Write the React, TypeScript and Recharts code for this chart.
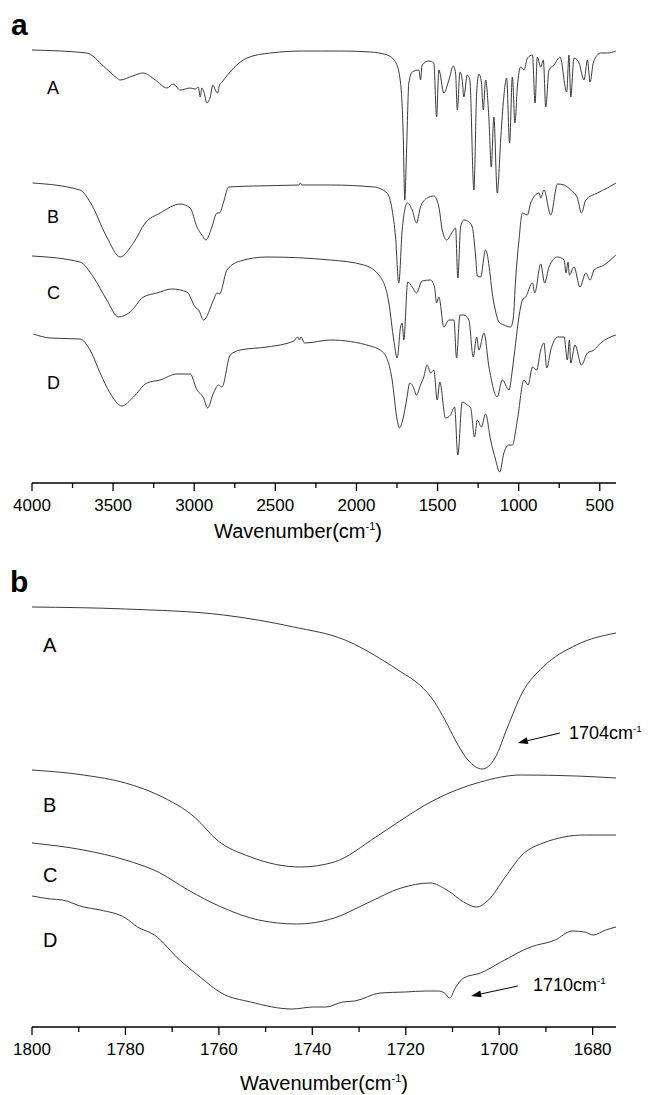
import React from 'react'
import { LineChart, Line, XAxis, YAxis, ReferenceLine } from 'recharts'

// panel a: full FTIR spectra, [wavenumber, transmittance (a.u., offset)]
const fullA: [number, number][] = [
  [4000, 433], [3662, 430], [3560, 417], [3477, 405], [3457, 403], [3380, 407], [3315, 410], [3240, 403],
  [3168, 395], [3130, 399], [3086, 393], [3025, 395], [2994, 394], [2975, 396], [2963, 386], [2953, 395],
  [2940, 391], [2922, 380], [2901, 386], [2885, 398], [2870, 393], [2856, 390], [2844, 398], [2829, 401],
  [2757, 415], [2675, 425], [2531, 430], [2327, 432], [2222, 432], [2099, 432], [1914, 431], [1811, 428],
  [1759, 421], [1728, 400], [1712, 350], [1702, 283], [1691, 333], [1677, 400], [1656, 411], [1615, 413],
  [1605, 403], [1595, 418], [1554, 422], [1523, 420], [1506, 366], [1492, 413], [1461, 390], [1430, 403],
  [1403, 417], [1389, 410], [1378, 373], [1362, 411], [1348, 403], [1338, 386], [1317, 408], [1301, 403],
  [1276, 293], [1259, 390], [1245, 409], [1230, 401], [1218, 373], [1204, 403], [1183, 363], [1169, 316],
  [1153, 366], [1132, 290], [1111, 343], [1095, 380], [1074, 405], [1056, 340], [1039, 406], [1023, 360],
  [1008, 396], [988, 416], [967, 413], [946, 425], [915, 428], [899, 380], [885, 426], [864, 416],
  [848, 423], [833, 376], [813, 413], [782, 418], [745, 426], [704, 391], [690, 428], [679, 386],
  [659, 425], [628, 420], [597, 403], [576, 423], [560, 401], [539, 421], [494, 430], [453, 430], [401, 432],
]

const fullB: [number, number][] = [
  [3996, 300], [3704, 293], [3642, 281], [3539, 246], [3457, 226], [3375, 240], [3302, 260], [3210, 270],
  [3086, 279], [3025, 275], [2983, 256], [2953, 248], [2928, 243], [2891, 256], [2860, 270], [2844, 270],
  [2819, 281], [2788, 296], [2634, 297], [2355, 298], [2346, 300], [2338, 298], [2160, 298], [1893, 296],
  [1811, 290], [1780, 273], [1759, 246], [1739, 200], [1718, 253], [1687, 280], [1656, 273], [1630, 260],
  [1605, 276], [1564, 285], [1523, 287], [1492, 276], [1471, 253], [1444, 243], [1409, 251], [1389, 255],
  [1375, 205], [1358, 256], [1338, 263], [1307, 261], [1286, 256], [1265, 226], [1255, 207], [1235, 206],
  [1204, 233], [1153, 180], [1122, 161], [1091, 158], [1049, 156], [1033, 165], [1019, 203], [998, 243],
  [977, 270], [946, 268], [926, 280], [874, 290], [864, 285], [844, 293], [802, 268], [761, 299],
  [720, 298], [679, 293], [638, 285], [613, 270], [586, 283], [515, 290], [453, 295], [400, 300],
]

const fullC: [number, number][] = [
  [4000, 227], [3704, 221], [3622, 206], [3539, 183], [3467, 166], [3395, 171], [3313, 186], [3230, 190],
  [3138, 194], [3045, 191], [2994, 176], [2973, 173], [2942, 163], [2881, 183], [2860, 190], [2844, 189],
  [2798, 213], [2716, 222], [2551, 226], [2160, 223], [1955, 218], [1852, 206], [1800, 180], [1770, 143],
  [1749, 125], [1728, 156], [1718, 160], [1708, 143], [1684, 201], [1656, 196], [1630, 190], [1595, 202],
  [1543, 203], [1519, 196], [1506, 180], [1492, 186], [1461, 156], [1430, 163], [1399, 163], [1383, 125],
  [1362, 168], [1338, 168], [1307, 163], [1280, 126], [1259, 146], [1245, 133], [1214, 150], [1183, 116],
  [1132, 86], [1101, 103], [1060, 93], [1039, 113], [1029, 126], [988, 176], [977, 183], [957, 186],
  [915, 200], [901, 190], [864, 219], [840, 200], [813, 216], [761, 226], [720, 223], [708, 210],
  [696, 221], [687, 208], [659, 216], [622, 196], [586, 210], [560, 203], [535, 213], [473, 218], [401, 228],
]

const fullD: [number, number][] = [
  [3992, 149], [3889, 145], [3704, 144], [3642, 133], [3580, 110], [3519, 90], [3446, 77], [3375, 86],
  [3292, 100], [3210, 103], [3107, 109], [3025, 109], [2983, 93], [2942, 85], [2918, 75], [2881, 90],
  [2850, 98], [2829, 96], [2778, 128], [2716, 133], [2551, 136], [2387, 142], [2362, 146], [2352, 143],
  [2342, 146], [2320, 140], [2160, 143], [1914, 137], [1832, 130], [1780, 103], [1749, 63], [1735, 55],
  [1712, 65], [1691, 83], [1671, 100], [1650, 96], [1630, 88], [1605, 98], [1585, 106], [1564, 118],
  [1543, 110], [1523, 113], [1502, 83], [1486, 101], [1451, 65], [1420, 68], [1395, 76], [1375, 28],
  [1348, 81], [1317, 78], [1296, 75], [1272, 46], [1255, 63], [1230, 56], [1204, 69], [1173, 43],
  [1142, 23], [1117, 11], [1091, 30], [1060, 38], [1039, 38], [1008, 63], [967, 103], [942, 98],
  [915, 116], [889, 113], [864, 133], [844, 140], [827, 115], [802, 133], [761, 146], [720, 146],
  [700, 123], [687, 143], [679, 120], [653, 138], [613, 118], [576, 130], [535, 133], [494, 140], [401, 148],
]

// panel b: carbonyl region
const zoomA: [number, number][] = [
  [1800, 420], [1780, 418], [1759, 412], [1744, 400], [1733, 387], [1729, 378], [1725, 367], [1721, 355],
  [1717, 342], [1714, 326], [1711.5, 306], [1709.4, 287], [1706.7, 267], [1703.6, 258], [1700.9, 269],
  [1698.2, 300], [1695.1, 334], [1690.6, 360], [1683.5, 382], [1675, 394],
]

const zoomB: [number, number][] = [
  [1800, 257], [1789, 252], [1780, 244], [1773, 232], [1765, 209], [1760.4, 187], [1753.2, 170],
  [1742.5, 160], [1735.3, 165], [1726.4, 190], [1721.9, 204], [1713.9, 227], [1704, 245], [1695.3, 252],
  [1683.5, 251], [1675, 249],
]

const zoomC: [number, number][] = [
  [1800, 184], [1789, 177], [1780, 167], [1773, 155], [1766.6, 137], [1759.5, 120], [1751.5, 107],
  [1743.4, 103], [1735.3, 109], [1728.2, 124], [1721, 139], [1714.8, 144], [1711.2, 137], [1707.6, 125],
  [1704.9, 120], [1702.3, 127], [1698.7, 150], [1695.1, 172], [1690.6, 184], [1681.7, 192], [1675, 192],
]

const zoomD: [number, number][] = [
  [1800, 131], [1796, 128], [1793.5, 127], [1789, 120], [1785.4, 117], [1780, 109], [1777.4, 100],
  [1773.8, 92], [1768.4, 67], [1764, 50], [1759.5, 34], [1753.2, 25], [1744.3, 18], [1739.8, 20],
  [1737.1, 20], [1733.5, 25], [1730.9, 26], [1725.5, 34], [1720.1, 35], [1715.7, 36], [1713, 36],
  [1711.7, 34], [1710.6, 29], [1709.4, 39], [1707.6, 49], [1704, 54], [1699.6, 65], [1693.3, 80],
  [1688, 87], [1684.4, 96], [1681.7, 95], [1679.9, 92], [1677.2, 97], [1675, 100],
]

const ticksFull = [4000, 3750, 3500, 3250, 3000, 2750, 2500, 2250, 2000, 1750, 1500, 1250, 1000, 750, 500]
const ticksZoom = [1800, 1790, 1780, 1770, 1760, 1750, 1740, 1730, 1720, 1710, 1700, 1690, 1680]

// annotation arrows, tail -> head
const arrow1704 = [{ x: 1687, y: 294 }, { x: 1696, y: 284 }]
const arrow1710 = [{ x: 1696, y: 41 }, { x: 1706, y: 31 }]

const FONT = '"Liberation Sans", Arial, sans-serif'
const LINE = '#3a3a3a'

const rows = (pts: [number, number][]) => pts.map(([wn, t]) => ({ wn, t }))

const makeTick = (major: number) => (props: any) => {
  const { x, y, payload } = props
  const isMajor = payload.value % major === 0
  return (
    <g>
      <line x1={x} x2={x} y1={y} y2={y + (isMajor ? 8 : 5)} stroke="#000" strokeWidth={1.3} />
      {isMajor && (
        <text x={x} y={y + 22} textAnchor="middle" dominantBaseline="central" fontSize={17} fontFamily={FONT} fill="#000">
          {payload.value}
        </text>
      )}
    </g>
  )
}

const arrowShape = (props: any) => {
  const { x1, y1, x2, y2 } = props
  const ang = Math.atan2(y2 - y1, x2 - x1)
  const L = 10
  const W = 3.5
  const bx = x2 - L * Math.cos(ang)
  const by = y2 - L * Math.sin(ang)
  const pts = `${x2},${y2} ${bx + W * Math.sin(ang)},${by - W * Math.cos(ang)} ${bx - W * Math.sin(ang)},${by + W * Math.cos(ang)}`
  return (
    <g>
      <line x1={x1} y1={y1} x2={bx} y2={by} stroke="#000" strokeWidth={1} />
      <polygon points={pts} fill="#000" />
    </g>
  )
}

const Txt: React.FC<{ x: number; y: number; size: number; bold?: boolean; center?: boolean; children: React.ReactNode }> = ({
  x, y, size, bold, center, children,
}) => (
  <div
    style={{
      position: 'absolute',
      left: x,
      top: y,
      transform: center ? 'translate(-50%, -50%)' : 'translateY(-50%)',
      fontSize: size,
      fontWeight: bold ? 'bold' : 'normal',
      fontFamily: FONT,
      lineHeight: 1,
      whiteSpace: 'nowrap',
      color: '#000',
    }}
  >
    {children}
  </div>
)

const Unit: React.FC<{ text: string }> = ({ text }) => (
  <span>
    {text}
    <span style={{ fontSize: '0.55em', position: 'relative', top: '-0.75em' }}>-1</span>
  </span>
)

const lines = (sets: [number, number][][]) =>
  sets.map((s, i) => (
    <Line
      key={i}
      data={rows(s)}
      dataKey="t"
      type="monotone"
      stroke={LINE}
      strokeWidth={1}
      dot={false}
      isAnimationActive={false}
    />
  ))

const App: React.FC = () => {
  return (
    <div style={{ position: 'absolute', left: 0, top: 0, width: 651, height: 1095, background: '#fff' }}>
      <div style={{ position: 'absolute', left: 0, top: 0 }}>
        <LineChart width={651} height={560} margin={{ top: 23, right: 35, left: 32, bottom: 47 }}>
          <XAxis
            dataKey="wn"
            type="number"
            domain={[400, 4000]}
            allowDataOverflow
            reversed
            ticks={ticksFull}
            interval={0}
            tick={makeTick(500)}
            tickLine={false}
            tickSize={0}
            tickMargin={0}
            height={30}
            axisLine={{ stroke: '#000', strokeWidth: 1.5 }}
          />
          <YAxis type="number" domain={[0, 460]} allowDataOverflow hide />
          {lines([fullA, fullB, fullC, fullD])}
        </LineChart>
      </div>
      <div style={{ position: 'absolute', left: 0, top: 570 }}>
        <LineChart width={651} height={525} margin={{ top: 20, right: 35, left: 32, bottom: 38 }}>
          <XAxis
            dataKey="wn"
            type="number"
            domain={[1675, 1800]}
            allowDataOverflow
            reversed
            ticks={ticksZoom}
            interval={0}
            tick={makeTick(20)}
            tickLine={false}
            tickSize={0}
            tickMargin={0}
            height={30}
            axisLine={{ stroke: '#000', strokeWidth: 1.5 }}
          />
          <YAxis type="number" domain={[0, 437]} allowDataOverflow hide />
          {lines([zoomA, zoomB, zoomC, zoomD])}
          <ReferenceLine segment={arrow1704} shape={arrowShape} ifOverflow="visible" />
          <ReferenceLine segment={arrow1710} shape={arrowShape} ifOverflow="visible" />
        </LineChart>
      </div>

      <Txt x={11} y={25} size={30} bold>a</Txt>
      <Txt x={47} y={88} size={18}>A</Txt>
      <Txt x={47} y={217} size={18}>B</Txt>
      <Txt x={47} y={293} size={18}>C</Txt>
      <Txt x={47} y={383} size={18}>D</Txt>
      <Txt x={298} y={531} size={20} center><Unit text="Wavenumber(cm" />)</Txt>

      <Txt x={10} y={582} size={30} bold>b</Txt>
      <Txt x={43} y={645} size={20}>A</Txt>
      <Txt x={43} y={805} size={20}>B</Txt>
      <Txt x={43} y={875} size={20}>C</Txt>
      <Txt x={43} y={940} size={20}>D</Txt>
      <Txt x={569} y={733} size={18}><Unit text="1704cm" /></Txt>
      <Txt x={533} y={985} size={18}><Unit text="1710cm" /></Txt>
      <Txt x={324} y={1083} size={20} center><Unit text="Wavenumber(cm" />)</Txt>
    </div>
  )
}

export default App
